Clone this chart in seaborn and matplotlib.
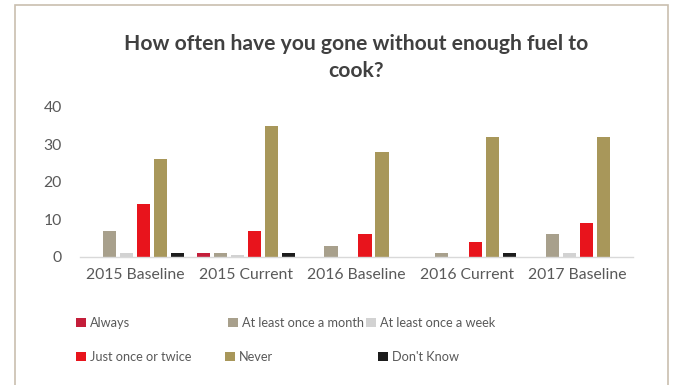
import matplotlib
matplotlib.use("Agg")
import matplotlib.pyplot as plt
from matplotlib.patches import Rectangle, Patch
import seaborn as sns
import pandas as pd

periods = ["2015 Baseline", "2015 Current", "2016 Baseline", "2016 Current", "2017 Baseline"]
responses = ["Always", "At least once a month", "At least once a week",
             "Just once or twice", "Never", "Don't Know"]

always = [0, 1, 0, 0, 0]
once_a_month = [7, 1, 3, 1, 6]
once_a_week = [1, 0.5, 0, 0, 1]
once_or_twice = [14, 7, 6, 4, 9]
never = [26, 35, 28, 32, 32]
dont_know = [1, 1, 0, 1, 0]

colors = ["#C41E3A", "#A8A08C", "#D2D2D2", "#E8141C", "#A8975A", "#1C1C1C"]

series = [always, once_a_month, once_a_week, once_or_twice, never, dont_know]
rows = []
for resp, vals in zip(responses, series):
    for p, v in zip(periods, vals):
        rows.append({"period": p, "response": resp, "value": v})
df = pd.DataFrame(rows)

sns.set_theme(style="white")
plt.rcParams["font.family"] = ["Lato", "DejaVu Sans"]

W, H = 675, 385
fig = plt.figure(figsize=(W / 100, H / 100), dpi=100)
ax = fig.add_axes([0.1185, 0.3325, 0.8193, 0.3896])

sns.barplot(data=df, x="period", y="value", hue="response", order=periods,
            hue_order=responses, palette=colors, width=0.92, gap=0.22,
            linewidth=0, saturation=1, ax=ax, legend=False)

ax.set_ylim(0, 40)
ax.set_xlim(-0.5, 4.5)
ax.set_yticks([0, 10, 20, 30, 40])
ax.set_xlabel("")
ax.set_ylabel("")
for s in ["top", "right", "left"]:
    ax.spines[s].set_visible(False)
ax.spines["bottom"].set_color("#D9D9D9")
ax.spines["bottom"].set_linewidth(1.0)
ax.tick_params(axis="both", length=0, labelsize=11.3, colors="#595959")
ax.tick_params(axis="y", pad=13)
ax.tick_params(axis="x", pad=8)

fig.text(0.527, 0.85, "How often have you gone without enough fuel to\ncook?",
         ha="center", va="center", fontsize=15.2, fontweight="bold",
         color="#404040", linespacing=1.45)

# one legend entry per slot, two rows of three
entries = [
    (0, 76, 323), (1, 228, 323), (2, 366, 323),
    (3, 76, 357), (4, 225, 357), (5, 378, 357),
]
for idx, px, py in entries:
    fig.legend([Patch(facecolor=colors[idx], edgecolor="none")], [responses[idx]],
               loc="center left", bbox_to_anchor=(px / W, 1 - py / H),
               frameon=False, fontsize=9.2, labelcolor="#595959",
               handlelength=0.8, handleheight=0.8, handletextpad=0.3,
               borderaxespad=0, borderpad=0)

# outer chart border
fig.patches.append(Rectangle((15 / W, -0.05), (668 - 15) / W, 1.05 - 5 / H,
                             transform=fig.transFigure, fill=False,
                             edgecolor="#C9BFAF", linewidth=1.2))

fig.savefig("out.png", dpi=100, facecolor="white")
